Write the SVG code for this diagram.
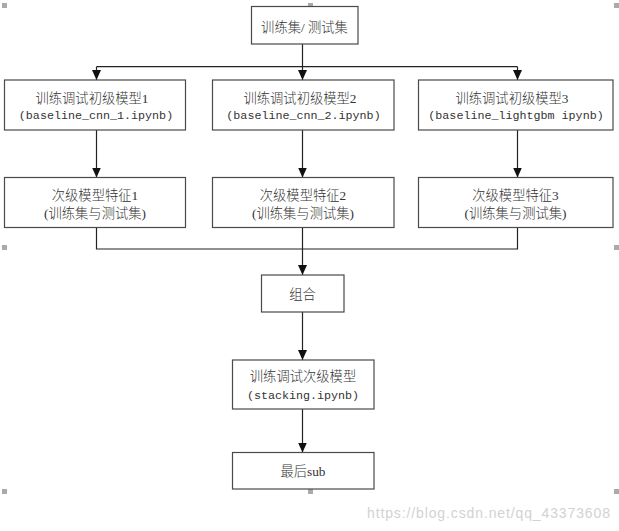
<svg xmlns="http://www.w3.org/2000/svg" width="619" height="531" viewBox="0 0 619 531">
<defs>
<style>
.box{fill:#fff;stroke:#4a4a4a;stroke-width:1.2}
.t{font-family:"Liberation Serif","Noto Sans CJK SC",serif;font-size:13.3px;font-weight:300;fill:#333;text-anchor:middle}
.m{font-family:"Liberation Mono","Noto Sans CJK SC",monospace;font-size:11.7px;fill:#333;text-anchor:middle}
.c{fill:none;stroke:#222;stroke-width:1.2}
.h{fill:#aaa}
</style>
<marker id="arr" viewBox="0 0 10 12" refX="10" refY="6" markerWidth="10" markerHeight="12" markerUnits="userSpaceOnUse" orient="auto">
<path d="M0,1.5 L10,6 L0,10.5 z" fill="#111"/>
</marker>
</defs>
<rect width="619" height="531" fill="#fff"/>
<g id="handles">
<rect class="h" x="2" y="3" width="5" height="5"/>
<rect class="h" x="308" y="3" width="5" height="5"/>
<rect class="h" x="614" y="3" width="5" height="5"/>
<rect class="h" x="2" y="245" width="5" height="5"/>
<rect class="h" x="614" y="245" width="5" height="5"/>
<rect class="h" x="2" y="489" width="5" height="5"/>
<rect class="h" x="308" y="489" width="5" height="5"/>
<rect class="h" x="614" y="489" width="5" height="5"/>
</g>
<g id="connectors">
<path class="c" d="M302.5,44 V66.7 M96.5,66.7 H517.5"/>
<path class="c" d="M96.5,66.7 V80" marker-end="url(#arr)"/>
<path class="c" d="M302.5,66.7 V80" marker-end="url(#arr)"/>
<path class="c" d="M517.5,66.7 V80" marker-end="url(#arr)"/>
<path class="c" d="M96.5,130 V177.5" marker-end="url(#arr)"/>
<path class="c" d="M302.5,130 V177.5" marker-end="url(#arr)"/>
<path class="c" d="M517.5,130 V177.5" marker-end="url(#arr)"/>
<path class="c" d="M96.5,227.5 V249 H517.5 V227.5 M302.5,227.5 V249"/>
<path class="c" d="M302.5,249 V275" marker-end="url(#arr)"/>
<path class="c" d="M302.5,312 V360" marker-end="url(#arr)"/>
<path class="c" d="M302.5,409 V452.5" marker-end="url(#arr)"/>
</g>
<g id="data">
<rect class="box" x="251.5" y="6.5" width="106.5" height="37.5"/>
<text class="t" x="304.5" y="31.5">训练集/ 测试集</text>
</g>
<g id="train1">
<rect class="box" x="4.5" y="80" width="181" height="50"/>
<text class="t" x="92" y="103">训练调试初级模型1</text>
<text class="m" x="96" y="119">(baseline_cnn_1.ipynb)</text>
</g>
<g id="train2">
<rect class="box" x="212.5" y="80" width="181.5" height="50"/>
<text class="t" x="300" y="103">训练调试初级模型2</text>
<text class="m" x="303.5" y="119">(baseline_cnn_2.ipynb)</text>
</g>
<g id="train3">
<rect class="box" x="418.5" y="80" width="194.5" height="50"/>
<text class="t" x="512" y="103">训练调试初级模型3</text>
<text class="m" x="516" y="119">(baseline_lightgbm ipynb)</text>
</g>
<g id="feat1">
<rect class="box" x="4.5" y="177.5" width="181" height="50"/>
<text class="t" x="95" y="200">次级模型特征1</text>
<text class="t" x="95" y="217.5">(训练集与测试集)</text>
</g>
<g id="feat2">
<rect class="box" x="212.5" y="177.5" width="181.5" height="50"/>
<text class="t" x="303" y="200">次级模型特征2</text>
<text class="t" x="303" y="217.5">(训练集与测试集)</text>
</g>
<g id="feat3">
<rect class="box" x="418.5" y="177.5" width="194.5" height="50"/>
<text class="t" x="515.5" y="200">次级模型特征3</text>
<text class="t" x="515.5" y="217.5">(训练集与测试集)</text>
</g>
<g id="combine">
<rect class="box" x="261.5" y="275" width="82.5" height="37"/>
<text class="t" x="302.5" y="299">组合</text>
</g>
<g id="stacking">
<rect class="box" x="232.5" y="360" width="141.5" height="49"/>
<text class="t" x="303" y="381">训练调试次级模型</text>
<text class="m" x="303" y="398.5">(stacking.ipynb)</text>
</g>
<g id="final">
<rect class="box" x="232.5" y="452.5" width="141.5" height="36.5"/>
<text class="t" x="303" y="475.5">最后sub</text>
</g>
<text x="367" y="518" font-family="Liberation Sans, sans-serif" font-size="14" fill="#d2d2d2" textLength="243">https://blog.csdn.net/qq_43373608</text>
</svg>
